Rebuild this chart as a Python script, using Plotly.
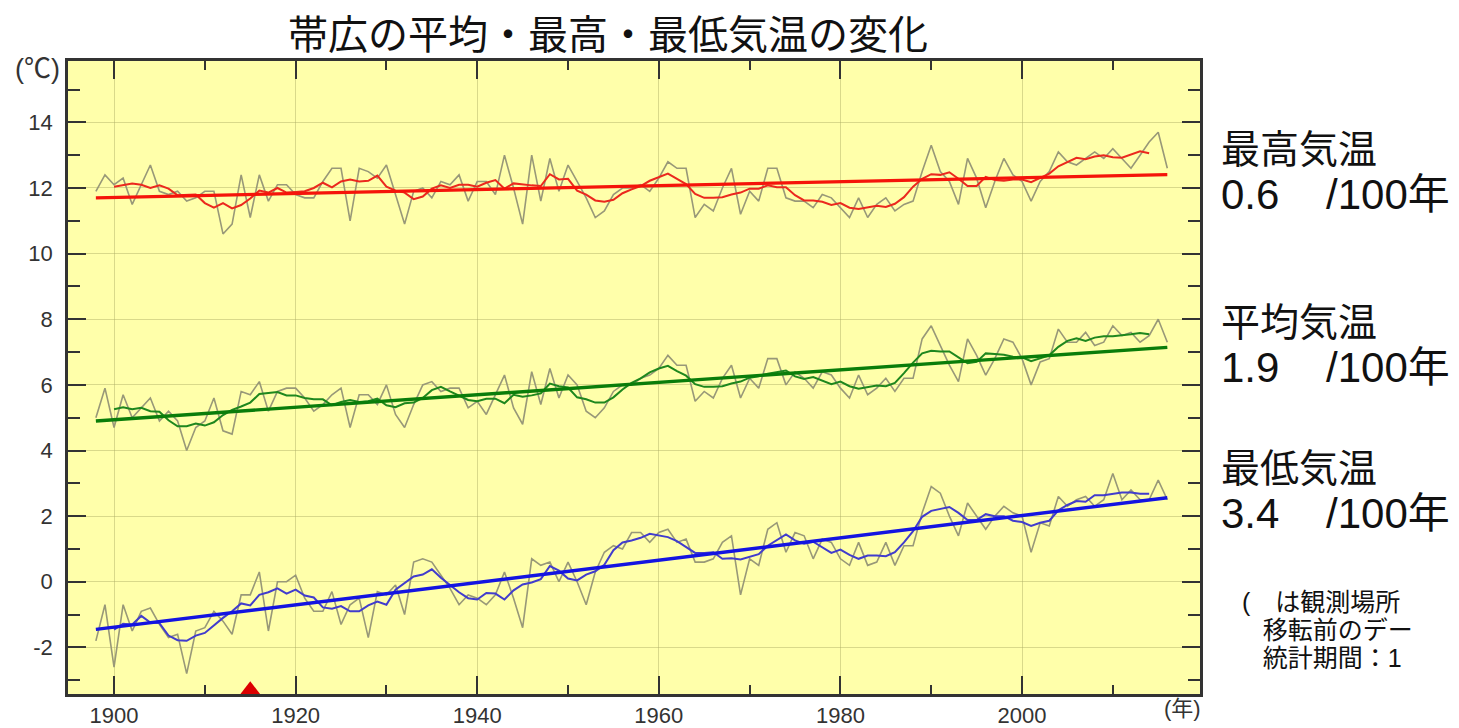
import plotly.graph_objects as go
import pandas as pd

# 帯広: annual mean of daily max / mean / min temperature (℃), 1898-2016
years = list(range(1898, 2017))

t_max = [
    11.9, 12.4,
    12.1, 12.3, 11.5, 12.1, 12.7, 11.9, 11.8, 11.9, 11.6, 11.7,
    11.9, 11.9, 10.6, 10.9, 12.4, 11.1, 12.4, 11.6, 12.1, 12.1,
    11.8, 11.7, 11.7, 12.2, 12.6, 12.6, 11.0, 12.6, 12.5, 12.3,
    12.7, 11.8, 10.9, 11.9, 12.0, 11.7, 12.2, 12.1, 12.4, 11.6,
    12.2, 12.2, 11.8, 13.0, 12.0, 10.9, 13.0, 11.6, 12.9, 11.9,
    12.7, 12.2, 11.7, 11.1, 11.3, 11.8, 12.0, 12.0, 12.1, 11.9,
    12.3, 12.8, 12.6, 12.6, 11.1, 11.5, 11.3, 12.0, 12.6, 11.2,
    11.9, 11.6, 12.6, 12.6, 11.7, 11.6, 11.6, 11.4, 11.8, 11.7,
    11.4, 11.1, 11.7, 11.1, 11.5, 11.7, 11.3, 11.5, 11.6, 12.5,
    13.3, 12.5, 12.2, 11.5, 12.9, 12.3, 11.4, 12.2, 12.9, 12.4,
    12.2, 11.6, 12.2, 12.5, 13.1, 12.8, 12.7, 12.9, 13.1, 12.9,
    13.2, 12.9, 12.6, 13.0, 13.4, 13.7, 12.6,
]

t_mean = [
    5.0, 5.9,
    4.7, 5.7, 5.0, 5.3, 5.6, 4.9, 5.2, 4.9, 4.0, 4.7,
    4.9, 5.6, 4.6, 4.5, 5.8, 5.7, 6.1, 5.2, 5.8, 5.9,
    5.9, 5.6, 5.2, 5.4, 5.7, 5.9, 4.7, 5.7, 5.7, 5.4,
    6.0, 5.1, 4.7, 5.4, 6.0, 6.1, 5.8, 5.9, 5.9, 5.3,
    5.5, 5.1, 5.7, 6.3, 5.3, 4.8, 6.4, 5.4, 6.5, 5.6,
    6.3, 6.0, 5.2, 5.0, 5.3, 5.8, 6.0, 6.0, 6.2, 6.3,
    6.5, 6.9, 6.6, 6.6, 5.5, 5.8, 5.6, 6.2, 6.6, 5.6,
    6.2, 5.9, 6.8, 6.8, 6.0, 6.4, 6.2, 5.9, 6.4, 6.3,
    5.9, 5.6, 6.3, 5.7, 5.9, 6.2, 5.8, 6.2, 6.2, 7.4,
    7.8, 7.2, 6.6, 6.1, 7.4, 6.9, 6.3, 6.8, 7.4, 7.3,
    6.8, 6.0, 6.7, 6.8, 7.7, 7.3, 7.3, 7.6, 7.2, 7.3,
    7.8, 7.5, 7.6, 7.3, 7.5, 8.0, 7.3,
]

t_min = [
    -1.8, -0.7,
    -2.6, -0.7, -1.5, -0.9, -0.8, -1.3, -1.7, -1.6, -2.8, -1.5,
    -1.4, -0.9, -1.2, -1.6, -0.4, -0.4, 0.3, -1.5, 0.0, 0.0,
    0.2, -0.5, -0.9, -0.9, -0.3, -1.3, -0.7, -0.5, -1.7, -0.3,
    -0.4, -0.1, -1.0, 0.6, 0.7, 0.6, 0.2, -0.2, -0.7, -0.4,
    -0.5, -0.7, -0.4, 0.3, -0.5, -1.4, 0.7, 0.5, 0.6, 0.0,
    0.6, 0.0, -0.7, 0.3, 0.9, 1.1, 1.0, 1.5, 1.5, 1.2,
    1.5, 1.6, 1.2, 1.3, 0.6, 0.6, 0.7, 1.2, 1.4, -0.4,
    0.7, 0.5, 1.6, 1.8, 0.9, 1.5, 1.4, 0.7, 1.3, 1.2,
    0.7, 0.5, 1.2, 0.5, 0.6, 1.2, 0.5, 1.1, 1.1, 2.1,
    2.9, 2.7, 2.0, 1.4, 2.4, 2.0, 1.6, 2.0, 2.3, 2.1,
    2.0, 0.9, 1.8, 1.7, 2.6, 2.3, 2.5, 2.6, 2.3, 2.5,
    3.3, 2.5, 2.8, 2.5, 2.5, 3.1, 2.5,
]

# long-term trend (℃ per 100 years) and trend-line level in the first year
trend_rates = [0.6, 1.9, 3.4]
trend_start = [11.7, 4.9, -1.45]

series_names = ["最高気温", "平均気温", "最低気温"]
rate_labels = ["0.6", "1.9", "3.4"]

note_lines = ["(\u3000は観測場所", "移転前のデー", "統計期間：1"]

# year the observing site was moved
relocation_years = [1915]

x_tick_vals = [1900, 1920, 1940, 1960, 1980, 2000]
x_minor_vals = [1910, 1930, 1950, 1970, 1990, 2010]
y_tick_vals = [-2, 0, 2, 4, 6, 8, 10, 12, 14]
y_tick_text = ["-2", "0", "2", "4", "6", "8", "10", "12", "14"]
y_minor_vals = [-3, -1, 1, 3, 5, 7, 9, 11, 13, 15]

# ---- layout geometry (pixels) ----
W, H = 1459, 728
PL, PR, PT, PB = 68, 1200, 61, 694
X_RANGE = [1894.93, 2019.6]
Y_RANGE = [-3.42, 15.87]


def px(x):
    return (x - PL) / (PR - PL)


def py(y):
    return (PB - y) / (PB - PT)


df = pd.DataFrame({"year": years, "max": t_max, "mean": t_mean, "min": t_min})

raw_color = "rgb(152,152,120)"
smooth_colors = ["rgb(235,40,30)", "rgb(30,135,30)", "rgb(65,60,205)"]
trend_colors = ["rgb(245,20,10)", "rgb(10,125,10)", "rgb(20,20,225)"]

fig = go.Figure()

for key, rate, start, sc, tc in zip(["max", "mean", "min"], trend_rates,
                                     trend_start, smooth_colors, trend_colors):
    # annual values
    fig.add_trace(go.Scatter(x=df["year"], y=df[key], mode="lines",
                             line=dict(color=raw_color, width=1.6),
                             hoverinfo="skip", showlegend=False))
    # 5-year running mean
    smooth = df[key].rolling(5, center=True).mean()
    fig.add_trace(go.Scatter(x=df["year"], y=smooth, mode="lines",
                             line=dict(color=sc, width=2),
                             hoverinfo="skip", showlegend=False))
    # linear trend
    trend = [start + rate * (y - years[0]) / 100 for y in years]
    fig.add_trace(go.Scatter(x=years, y=trend, mode="lines",
                             line=dict(color=tc, width=3.4),
                             hoverinfo="skip", showlegend=False))

# site relocation marker on the time axis
tri_offset = 0.13
fig.add_trace(go.Scatter(x=relocation_years,
                         y=[Y_RANGE[0] + tri_offset] * len(relocation_years),
                         mode="markers", cliponaxis=False,
                         marker=dict(symbol="triangle-up", size=17,
                                     color="rgb(220,0,0)", line=dict(width=0)),
                         hoverinfo="skip", showlegend=False))

axis_common = dict(
    showline=True, linecolor="#333333", linewidth=2.5, mirror="ticks",
    ticks="inside", ticklen=18, tickwidth=2, tickcolor="#333333",
    showgrid=True, gridcolor="rgba(170,170,100,0.45)", gridwidth=1,
    zeroline=False, automargin=False,
    tickfont=dict(family="Liberation Sans, Arial", size=22, color="#333333"),
)

fig.update_xaxes(range=X_RANGE, tickmode="array", tickvals=x_tick_vals,
                 minor=dict(tickmode="array", tickvals=x_minor_vals,
                            ticks="inside", ticklen=9, tickwidth=2,
                            tickcolor="#333333", showgrid=False),
                 ticklabelstandoff=0, **axis_common)
fig.update_yaxes(range=Y_RANGE, tickmode="array", tickvals=y_tick_vals,
                 ticktext=y_tick_text,
                 minor=dict(tickmode="array", tickvals=y_minor_vals,
                            ticks="inside", ticklen=12, tickwidth=2,
                            tickcolor="#333333", showgrid=False),
                 ticklabelstandoff=8, **axis_common)

jp = "Noto Sans CJK JP"
mixed = "Liberation Sans, Noto Sans CJK JP"
annotations = [
    dict(text="帯広の平均・最高・最低気温の変化", x=px(608), y=py(32),
         xanchor="center", yanchor="middle",
         font=dict(family=jp, size=40, color="#111")),
    dict(text="(℃)", x=px(37), y=py(69), xanchor="center", yanchor="middle",
         font=dict(family=mixed, size=27, color="#333")),
    dict(text="(年)", x=px(PR + 3), y=py(708), xanchor="right", yanchor="middle",
         font=dict(family=mixed, size=22, color="#333")),
]

# each trend label is one two-line block: name, then rate per 100 years
block_centers = [173, 346, 492]
gap = "\u00a0" * 4
for name, rate, yc in zip(series_names, rate_labels, block_centers):
    text = (f'<span style="font-size:39px">{name}</span><br>'
            f'<span style="font-size:42px">{rate}{gap}/100年</span>')
    annotations.append(dict(text=text, x=px(1219), y=py(yc), xanchor="left",
                            yanchor="middle", align="left",
                            font=dict(family=mixed, size=35, color="#111")))

indent = "\u00a0" * 3
note_text = "<br>".join(
    f'<span style="font-size:25px">{(indent if i else "") + line}</span>'
    for i, line in enumerate(note_lines))
annotations.append(dict(text=note_text, x=px(1240), y=py(630), xanchor="left",
                        yanchor="middle", align="left",
                        font=dict(family=mixed, size=21.5, color="#111")))

for a in annotations:
    a.update(xref="paper", yref="paper", showarrow=False)

fig.update_layout(
    width=W, height=H,
    margin=dict(l=PL, r=W - PR, t=PT, b=H - PB, pad=0, autoexpand=False),
    paper_bgcolor="white", plot_bgcolor="rgb(255,255,170)",
    annotations=annotations, showlegend=False,
)

fig.write_html("out.html")
